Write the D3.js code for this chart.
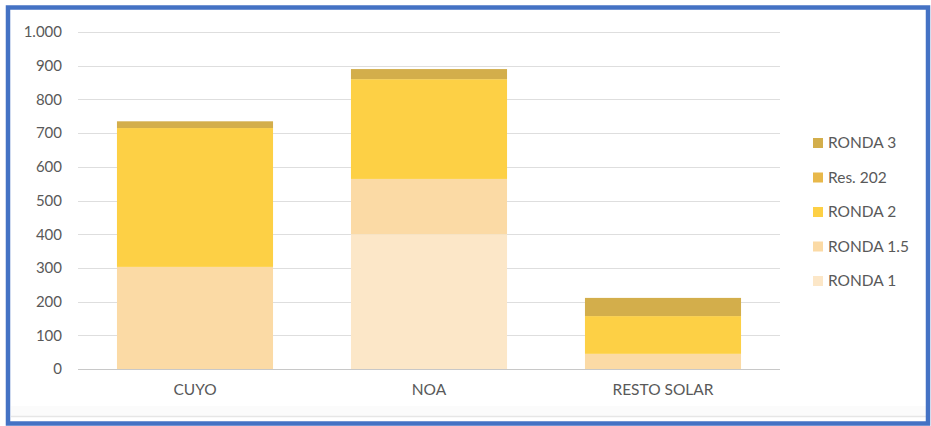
<!DOCTYPE html>
<html>
<head>
<meta charset="utf-8">
<script src="https://cdn.jsdelivr.net/npm/d3@7"></script>
<style>
  html, body { margin: 0; padding: 0; background: #fff; }
  svg { display: block; }
  text { font-family: Lato, "Open Sans", "Liberation Sans", sans-serif; fill: #595959; }
</style>
</head>
<body>
<svg id="chart" width="931" height="426"></svg>
<script>
// Capacity by region, stacked by tender round
const regions = ["CUYO", "NOA", "RESTO SOLAR"];
const seriesNames = ["RONDA 1", "RONDA 1.5", "RONDA 2", "Res. 202", "RONDA 3"];
const ronda1   = [0, 400, 0];
const ronda15  = [303, 164, 45];
const ronda2   = [412, 296, 112];
const res202   = [0, 0, 0];
const ronda3   = [20, 30, 54];
const yTicks   = [0, 100, 200, 300, 400, 500, 600, 700, 800, 900, 1000];
const colors   = ["#fce7c8", "#fbdaa5", "#fdd045", "#e8b84a", "#d3ae4b"];

const seriesValues = [ronda1, ronda15, ronda2, res202, ronda3];
const rows = regions.map((r, i) => {
  const o = { region: r };
  seriesNames.forEach((s, k) => { o[s] = seriesValues[k][i]; });
  return o;
});

const svg = d3.select("#chart");

// frame
svg.append("rect").attr("x", 0).attr("y", 0).attr("width", 931).attr("height", 426).attr("fill", "#fff");
svg.append("rect").attr("x", 11).attr("y", 406).attr("width", 916).attr("height", 10).attr("fill", "#fbfbfb");
svg.append("line").attr("x1", 11).attr("x2", 927).attr("y1", 416.5).attr("y2", 416.5)
  .attr("stroke", "#e6e6e6").attr("stroke-width", 1.5);
svg.append("rect").attr("x", 8).attr("y", 7.5).attr("width", 920).attr("height", 416)
  .attr("fill", "none").attr("stroke", "#4472c4").attr("stroke-width", 4.5);

const x = d3.scaleBand().domain(regions).range([78, 780]).paddingInner(0.333).paddingOuter(0.1665);
const y = d3.scaleLinear().domain([0, 1000]).range([369, 32]);

// gridlines
svg.append("g").selectAll("line").data(yTicks).join("line")
  .attr("x1", 78).attr("x2", 780)
  .attr("y1", d => Math.round(y(d)) + 0.5).attr("y2", d => Math.round(y(d)) + 0.5)
  .attr("stroke", d => d === 0 ? "#c8c8c8" : "#dedede").attr("stroke-width", 1);

// y axis labels
const yAxis = d3.axisLeft(y).tickValues(yTicks).tickSize(0).tickPadding(0)
  .tickFormat(d => d3.format(",")(d).replace(/,/g, "."));
const ga = svg.append("g").attr("transform", "translate(62,0)").call(yAxis);
ga.select(".domain").remove();
ga.selectAll("text").attr("font-size", 15).attr("fill", "#595959")
  .style("font-family", "Lato, 'Open Sans', sans-serif");

// stacked bars
const stack = d3.stack().keys(seriesNames)(rows);
svg.append("g").selectAll("g").data(stack).join("g")
  .attr("fill", (d, i) => colors[i])
  .selectAll("rect").data(d => d).join("rect")
  .attr("x", d => x(d.data.region))
  .attr("width", x.bandwidth())
  .attr("y", d => y(d[1]))
  .attr("height", d => y(d[0]) - y(d[1]));

// x axis labels
const xAxis = d3.axisBottom(x).tickSize(0).tickPadding(0);
const gx = svg.append("g").attr("transform", "translate(0,384)").call(xAxis);
gx.select(".domain").remove();
gx.selectAll("text").attr("font-size", 15.5).attr("fill", "#595959")
  .style("font-family", "Lato, 'Open Sans', sans-serif");

// legend, top entry is the last series
const legendY = d3.scalePoint().domain(seriesNames.slice().reverse()).range([143, 281]);
const lg = svg.append("g").selectAll("g").data(seriesNames).join("g")
  .attr("transform", d => `translate(813,${legendY(d)})`);
lg.append("rect").attr("x", 0).attr("y", -5).attr("width", 10).attr("height", 10)
  .attr("fill", (d, i) => colors[i]);
lg.append("text").attr("x", 15).attr("dy", "0.35em").attr("font-size", 15.5).text(d => d);
</script>
</body>
</html>
